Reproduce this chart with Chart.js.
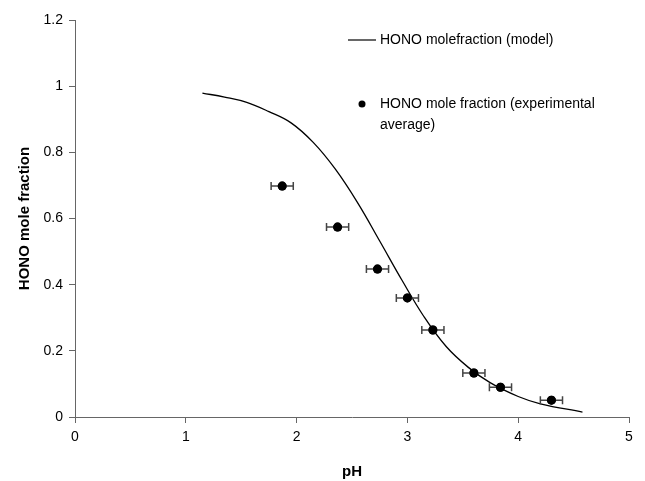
<!DOCTYPE html>
<html>
<head>
<meta charset="utf-8">
<script src="https://cdn.jsdelivr.net/npm/chart.js@4/dist/chart.umd.min.js"></script>
<style>
  html, body { margin: 0; padding: 0; background: #fff; }
  #wrap { width: 645px; height: 481px; position: relative; }
</style>
</head>
<body>
<div id="wrap"><canvas id="chart"></canvas></div>
<script>
// Model curve
const modelPH = [1.15, 1.35, 1.55, 1.75, 1.95, 2.15, 2.35, 2.55, 2.75, 2.95, 3.15, 3.35, 3.55, 3.75, 4.00, 4.20, 4.58];
const modelFrac = [0.979, 0.967, 0.951, 0.923, 0.889, 0.830, 0.749, 0.648, 0.532, 0.414, 0.303, 0.213, 0.150, 0.103, 0.062, 0.040, 0.015];

// Experimental averages with pH error
const expPH = [1.87, 2.37, 2.73, 3.00, 3.23, 3.60, 3.84, 4.30];
const expFrac = [0.698, 0.574, 0.447, 0.360, 0.263, 0.133, 0.090, 0.051];
const expPHErr = [0.10, 0.10, 0.10, 0.10, 0.10, 0.10, 0.10, 0.10];

const xTicks = [0, 1, 2, 3, 4, 5];
const yTicks = [0, 0.2, 0.4, 0.6, 0.8, 1, 1.2];

const modelLabel = 'HONO molefraction (model)';
const expLabel = ['HONO mole fraction (experimental', 'average)'];

const fontFamily = '"Liberation Sans", Arial, sans-serif';

// horizontal error bars for the experimental points
const errorBars = {
  id: 'errorBars',
  afterDatasetsDraw(chart) {
    const { ctx, scales: { x, y } } = chart;
    ctx.save();
    ctx.strokeStyle = '#444';
    ctx.lineWidth = 1.5;
    expPH.forEach((ph, i) => {
      const x0 = x.getPixelForValue(ph - expPHErr[i]);
      const x1 = x.getPixelForValue(ph + expPHErr[i]);
      const py = y.getPixelForValue(expFrac[i]);
      ctx.beginPath();
      ctx.moveTo(x0, py); ctx.lineTo(x1, py);
      ctx.moveTo(x0, py - 4); ctx.lineTo(x0, py + 4);
      ctx.moveTo(x1, py - 4); ctx.lineTo(x1, py + 4);
      ctx.stroke();
    });
    ctx.restore();
    // redraw the dots over the bars
    chart.getDatasetMeta(1).data.forEach(p => p.draw(ctx));
  }
};

// legend box inside the plot, top right
const legendBox = {
  id: 'legendBox',
  afterDraw(chart) {
    const ctx = chart.ctx;
    ctx.save();
    ctx.font = '14px ' + fontFamily;
    ctx.fillStyle = '#000';
    ctx.textBaseline = 'middle';
    ctx.strokeStyle = '#000';
    ctx.lineWidth = 1.2;
    ctx.beginPath();
    ctx.moveTo(348, 40); ctx.lineTo(376, 40);
    ctx.stroke();
    ctx.fillText(modelLabel, 380, 40);
    ctx.beginPath();
    ctx.arc(362, 104, 3.5, 0, Math.PI * 2);
    ctx.fill();
    ctx.fillText(expLabel[0], 380, 104);
    ctx.fillText(expLabel[1], 380, 125);
    ctx.restore();
  }
};

new Chart(document.getElementById('chart'), {
  type: 'scatter',
  data: {
    datasets: [
      {
        label: modelLabel,
        data: modelPH.map((v, i) => ({ x: v, y: modelFrac[i] })),
        showLine: true,
        borderColor: '#000',
        borderWidth: 1.3,
        pointRadius: 0,
        tension: 0.4,
        fill: false
      },
      {
        label: expLabel.join(' '),
        data: expPH.map((v, i) => ({ x: v, y: expFrac[i] })),
        showLine: false,
        pointRadius: 4.5,
        pointBackgroundColor: '#000',
        pointBorderColor: '#000',
        pointBorderWidth: 0
      }
    ]
  },
  options: {
    responsive: true,
    maintainAspectRatio: false,
    animation: false,
    layout: { padding: { left: 0, right: 16, top: 20, bottom: 0 } },
    plugins: {
      legend: { display: false },
      tooltip: { enabled: false }
    },
    scales: {
      x: {
        type: 'linear',
        min: 0,
        max: 5,
        afterBuildTicks: s => { s.ticks = xTicks.map(v => ({ value: v })); },
        afterFit: s => { s.height = 64; },
        ticks: { color: '#000', font: { size: 14, family: fontFamily }, padding: 6, callback: v => String(v) },
        grid: { display: true, drawOnChartArea: false, drawTicks: true, tickLength: 6, color: '#666' },
        border: { color: '#666', width: 1 },
        title: { display: true, text: 'pH', color: '#000', font: { size: 15, weight: 'bold', family: fontFamily }, padding: { top: 0, bottom: 0 } }
      },
      y: {
        type: 'linear',
        min: 0,
        max: 1.2,
        afterBuildTicks: s => { s.ticks = yTicks.map(v => ({ value: v })); },
        afterFit: s => { s.width = 75; },
        ticks: { color: '#000', font: { size: 14, family: fontFamily }, padding: 6, callback: v => String(v) },
        grid: { display: true, drawOnChartArea: false, drawTicks: true, tickLength: 6, color: '#666' },
        border: { color: '#666', width: 1 },
        title: { display: true, text: 'HONO mole fraction', color: '#000', font: { size: 15, weight: 'bold', family: fontFamily }, padding: { top: 16, bottom: 0 } }
      }
    }
  },
  plugins: [errorBars, legendBox]
});
</script>
</body>
</html>
